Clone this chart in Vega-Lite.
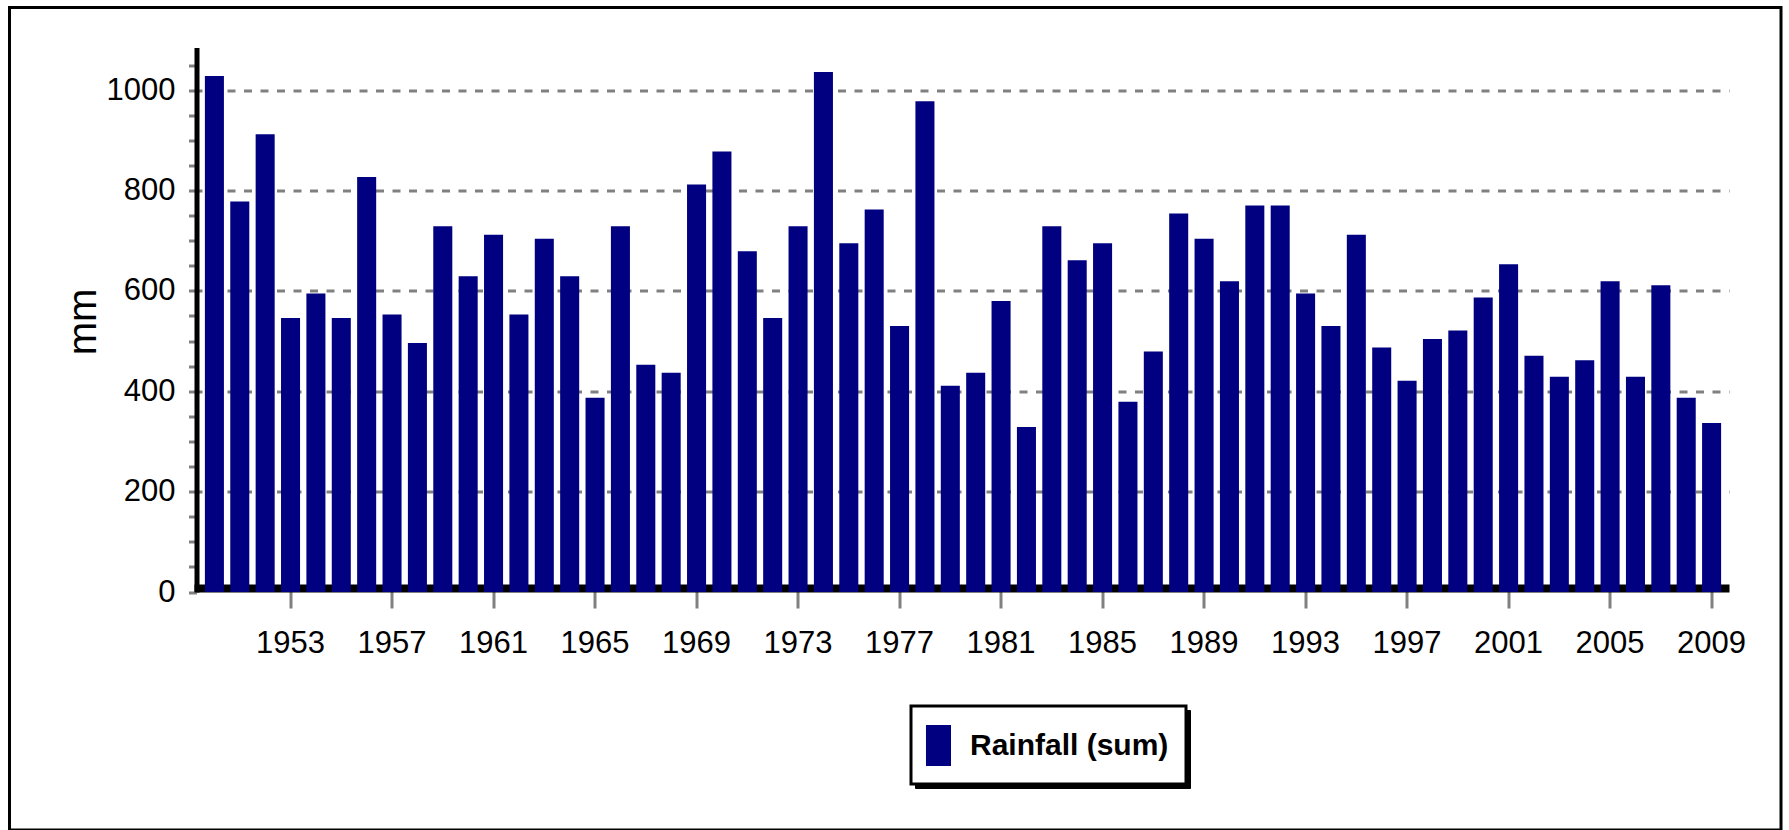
{
  "$schema": "https://vega.github.io/schema/vega-lite/v6.json",
  "autosize": "none",
  "padding": {"left": 9.5, "top": 7.5, "right": 8, "bottom": 0},
  "width": 1771.5,
  "height": 822.5,
  "background": "white",
  "config": {
    "view": {"stroke": "black", "strokeWidth": 3, "fill": "white"},
    "font": "Liberation Sans, Arial, sans-serif"
  },
  "data": {
    "values": [
      {"year": 1950, "rainfall": 1028}, {"year": 1951, "rainfall": 778}, {"year": 1952, "rainfall": 912},
      {"year": 1953, "rainfall": 546}, {"year": 1954, "rainfall": 595}, {"year": 1955, "rainfall": 546},
      {"year": 1956, "rainfall": 827}, {"year": 1957, "rainfall": 553}, {"year": 1958, "rainfall": 496},
      {"year": 1959, "rainfall": 729}, {"year": 1960, "rainfall": 629}, {"year": 1961, "rainfall": 712},
      {"year": 1962, "rainfall": 553}, {"year": 1963, "rainfall": 704}, {"year": 1964, "rainfall": 629},
      {"year": 1965, "rainfall": 387}, {"year": 1966, "rainfall": 729}, {"year": 1967, "rainfall": 453},
      {"year": 1968, "rainfall": 437}, {"year": 1969, "rainfall": 812}, {"year": 1970, "rainfall": 878},
      {"year": 1971, "rainfall": 679}, {"year": 1972, "rainfall": 546}, {"year": 1973, "rainfall": 729},
      {"year": 1974, "rainfall": 1036}, {"year": 1975, "rainfall": 695}, {"year": 1976, "rainfall": 762},
      {"year": 1977, "rainfall": 530}, {"year": 1978, "rainfall": 978}, {"year": 1979, "rainfall": 411},
      {"year": 1980, "rainfall": 437}, {"year": 1981, "rainfall": 580}, {"year": 1982, "rainfall": 329},
      {"year": 1983, "rainfall": 729}, {"year": 1984, "rainfall": 661}, {"year": 1985, "rainfall": 695},
      {"year": 1986, "rainfall": 379}, {"year": 1987, "rainfall": 479}, {"year": 1988, "rainfall": 754},
      {"year": 1989, "rainfall": 704}, {"year": 1990, "rainfall": 619}, {"year": 1991, "rainfall": 770},
      {"year": 1992, "rainfall": 770}, {"year": 1993, "rainfall": 595}, {"year": 1994, "rainfall": 530},
      {"year": 1995, "rainfall": 712}, {"year": 1996, "rainfall": 487}, {"year": 1997, "rainfall": 421},
      {"year": 1998, "rainfall": 504}, {"year": 1999, "rainfall": 521}, {"year": 2000, "rainfall": 587},
      {"year": 2001, "rainfall": 653}, {"year": 2002, "rainfall": 471}, {"year": 2003, "rainfall": 429},
      {"year": 2004, "rainfall": 462}, {"year": 2005, "rainfall": 619}, {"year": 2006, "rainfall": 429},
      {"year": 2007, "rainfall": 611}, {"year": 2008, "rainfall": 387}, {"year": 2009, "rainfall": 337}
    ]
  },
  "mark": {"type": "bar"},
  "encoding": {
    "x": {
      "field": "year",
      "type": "ordinal",
      "scale": {"range": [184.5, 1719.5], "paddingInner": 0.25, "paddingOuter": 0.37, "align": 0.58},
      "axis": {
        "orient": "bottom",
        "offset": -242,
        "title": null,
        "values": [1953, 1957, 1961, 1965, 1969, 1973, 1977, 1981, 1985, 1989, 1993, 1997, 2001, 2005, 2009],
        "labelAngle": 0,
        "labelFont": "Liberation Sans, Arial, sans-serif",
        "labelFontSize": 31,
        "labelColor": "black",
        "labelBaseline": "top",
        "labelPadding": 20,
        "domainColor": "black",
        "domainWidth": 8,
        "tickColor": "#808080",
        "tickWidth": 3,
        "tickSize": 20,
        "grid": false
      }
    },
    "y": {
      "field": "rainfall",
      "type": "quantitative",
      "scale": {"domain": [0, 1085], "range": [584.5, 40], "nice": false, "zero": true},
      "axis": {
        "orient": "left",
        "offset": -187,
        "values": [0, 50, 100, 150, 200, 250, 300, 350, 400, 450, 500, 550, 600, 650, 700, 750, 800, 850, 900, 950, 1000, 1050],
        "labelExpr": "datum.value % 200 === 0 ? datum.label : ''",
        "format": "d",
        "labelFont": "Liberation Sans, Arial, sans-serif",
        "labelFontSize": 31,
        "labelColor": "black",
        "labelPadding": 13.5,
        "labelBaseline": "middle",
        "domainColor": "black",
        "domainWidth": 5,
        "tickColor": "#808080",
        "tickWidth": 3,
        "tickSize": 8,
        "grid": true,
        "gridColor": "#808080",
        "gridWidth": 3,
        "gridDash": [8, 8.5],
        "gridOpacity": {"condition": {"test": "datum.value % 200 === 0 && datum.value > 0", "value": 1}, "value": 0},
        "title": "mm",
        "titleFont": "Liberation Sans, Arial, sans-serif",
        "titleFontSize": 40,
        "titleFontWeight": "normal",
        "titleColor": "black",
        "titleAngle": 270,
        "titleAlign": "center",
        "titleBaseline": "alphabetic",
        "titleX": -101.5,
        "titleY": 314
      }
    },
    "color": {
      "datum": "Rainfall (sum)",
      "type": "nominal",
      "scale": {"range": ["#000080"]},
      "legend": {
        "title": null,
        "orient": "none",
        "legendX": 901.5,
        "legendY": 698.5,
        "zindex": 2,
        "padding": 17.5,
        "strokeColor": "black",
        "fillColor": "white",
        "symbolType": "M-1.115,-0.93H0.023V0.93H-1.115Z",
        "symbolSize": 1936,
        "symbolStrokeWidth": 0,
        "labelFont": "Liberation Sans, Arial, sans-serif",
        "labelFontWeight": "bold",
        "labelFontSize": 30,
        "labelLimit": 500,
        "labelColor": "black",
        "labelOffset": -2.5,
        "encode": {"legend": {"update": {"strokeWidth": {"value": 3}}}}
      }
    },
    "opacity": {
      "datum": "shadow",
      "type": "nominal",
      "scale": {"range": [1, 1]},
      "legend": {
        "title": null,
        "orient": "none",
        "legendX": 905.5,
        "legendY": 702.5,
        "zindex": 1,
        "padding": 17.5,
        "strokeColor": "black",
        "fillColor": "black",
        "symbolType": "M-1.115,-0.93H0.023V0.93H-1.115Z",
        "symbolSize": 1936,
        "symbolStrokeWidth": 0,
        "symbolOpacity": 0,
        "labelExpr": "''",
        "labelFont": "Liberation Sans, Arial, sans-serif",
        "labelFontWeight": "bold",
        "labelFontSize": 30,
        "labelLimit": 500,
        "labelColor": "black",
        "labelOpacity": 0,
        "labelOffset": 195.5,
        "encode": {"legend": {"update": {"strokeWidth": {"value": 3}}}}
      }
    }
  }
}
